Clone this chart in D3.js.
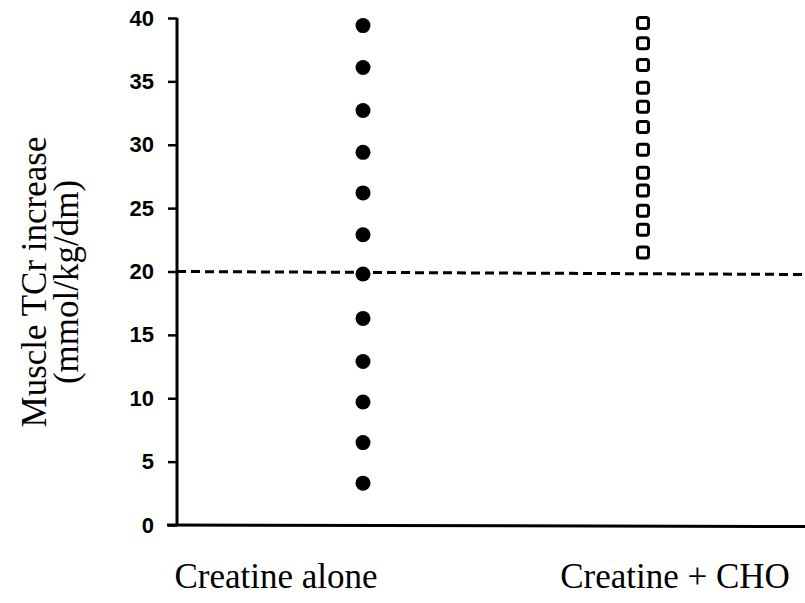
<!DOCTYPE html><html><meta charset="UTF-8">
<title>Muscle TCr increase</title>
<style>
  body { margin: 0; background: #fff; overflow: hidden; }
  .tick text { font: bold 22px "Liberation Sans", Arial, sans-serif; fill: #000; }
  .lbl { font-family: "Liberation Serif", "DejaVu Serif", serif; fill: #000; }
</style>
<script src="https://cdn.jsdelivr.net/npm/d3@7"></script>
<svg width="805" height="603"></svg>
<script>

var categories = ["Creatine alone", "Creatine + CHO"];
// Creatine alone, filled dots
var creatineAlone = [39.4, 36.1, 32.7, 29.4, 26.2, 22.9, 19.8, 16.3, 12.9, 9.7, 6.5, 3.3];
// Creatine + CHO, open squares
var creatineCho = [39.6, 38.0, 36.3, 34.5, 33.0, 31.4, 29.6, 27.8, 26.4, 24.8, 23.3, 21.5];
var yTicks = [0, 5, 10, 15, 20, 25, 30, 35, 40];
var threshold = 20;

var svg = d3.select("svg"),
    width = +svg.attr("width"),
    height = +svg.attr("height");

var y = d3.scaleLinear().domain([0, 40]).range([525, 18]);
var x = d3.scalePoint().domain(categories).range([363, 643]);
// the category names sit off the dot columns in the original
var xLabel = d3.scalePoint().domain(categories).range([276, 675]);

var left = 177;

// y axis
var yAxis = svg.append("g")
    .attr("transform", "translate(" + left + ",0)")
    .call(d3.axisLeft(y).tickValues(yTicks).tickSize(9).tickPadding(14));
yAxis.select(".domain").attr("stroke", "#000").attr("stroke-width", 3)
    .attr("d", "M0," + y(40) + "V" + y(0));
yAxis.selectAll(".tick line").attr("stroke", "#000").attr("stroke-width", 2.5);

// x axis line
svg.append("line")
    .attr("x1", left - 10).attr("x2", width)
    .attr("y1", y(0)).attr("y2", y(0) + 1.5)
    .attr("stroke", "#000").attr("stroke-width", 3);

// dashed reference line at 20
svg.append("line")
    .attr("x1", left).attr("x2", width)
    .attr("y1", y(threshold)).attr("y2", y(threshold) + 3)
    .attr("stroke", "#000").attr("stroke-width", 3)
    .attr("stroke-dasharray", "9,5");

// filled dots
svg.selectAll(".dot")
    .data(creatineAlone)
  .enter().append("circle")
    .attr("class", "dot")
    .attr("cx", x(categories[0]))
    .attr("cy", function(d) { return y(d); })
    .attr("r", 7.5)
    .attr("fill", "#000");

// open squares
svg.selectAll(".sq")
    .data(creatineCho)
  .enter().append("rect")
    .attr("class", "sq")
    .attr("x", x(categories[1]) - 5.5)
    .attr("y", function(d) { return y(d) - 5.5; })
    .attr("width", 11).attr("height", 11)
    .attr("rx", 2.5)
    .attr("fill", "#fff")
    .attr("stroke", "#000")
    .attr("stroke-width", 3);

// category labels
svg.selectAll(".cat")
    .data(categories)
  .enter().append("text")
    .attr("class", "lbl cat")
    .attr("x", function(d) { return xLabel(d); })
    .attr("y", 588)
    .attr("text-anchor", "middle")
    .style("font-size", "35px")
    .text(function(d) { return d; });

// y label
var yl = svg.append("text")
    .attr("class", "lbl")
    .attr("transform", "translate(46,282) rotate(-90)")
    .attr("text-anchor", "middle")
    .style("font-size", "35px");
yl.append("tspan").attr("x", 0).attr("y", 0).text("Muscle TCr increase");
yl.append("tspan").attr("x", 0).attr("y", 32).text("(mmol/kg/dm)");

</script>
</html>
